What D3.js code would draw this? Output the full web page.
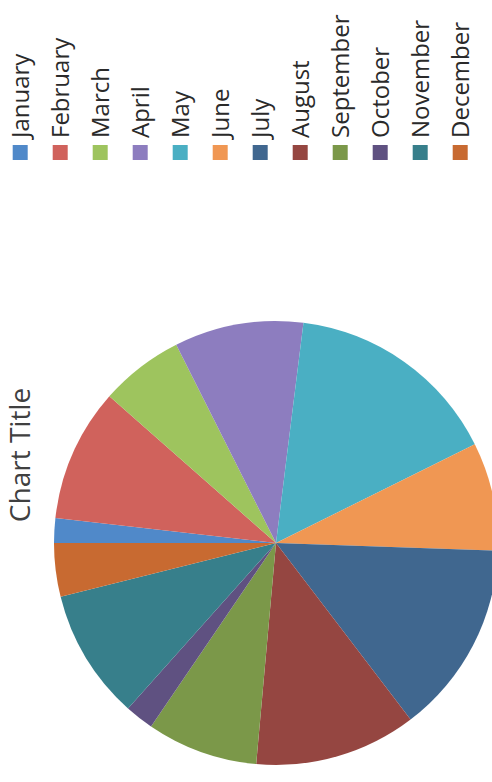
<!DOCTYPE html>
<html>
<head>
<meta charset="utf-8">
<script src="https://cdn.jsdelivr.net/npm/d3@7"></script>
<style>
  html, body { margin: 0; padding: 0; background: #fff; }
  svg { display: block; }
</style>
</head>
<body>
<svg id="chart" width="492" height="782"></svg>
<script>
const months = ["January","February","March","April","May","June","July","August","September","October","November","December"];
const values = [1.8, 9.7, 6.1, 9.4, 15.7, 7.9, 14.1, 11.8, 8.1, 2.1, 9.5, 3.9];
const colors = ["#5089c9","#d0625c","#9ec45e","#8d7dbf","#4aafc3","#f09753","#40678f","#954641","#7b9849","#5f5181","#377f8b","#c86a31"];
const title = "Chart Title";

const W = 492, H = 782;
const svg = d3.select("#chart");
// Chart is drawn in an unrotated frame (H wide, W tall) then turned 90° counter-clockwise.
const g = svg.append("g").attr("transform", `translate(0,${H}) rotate(-90)`);

const cx = 239, cy = 276, r = 222;
const pie = d3.pie().sort(null).value(d => d)(values);
const arc = d3.arc().innerRadius(0).outerRadius(r);
const color = d3.scaleOrdinal().domain(months).range(colors);

g.append("g").attr("transform", `translate(${cx},${cy})`)
  .selectAll("path").data(pie).join("path")
  .attr("d", arc)
  .attr("fill", (d, i) => color(months[i]));

g.append("text")
  .attr("x", 327).attr("y", 30)
  .attr("text-anchor", "middle")
  .attr("font-family", "Open Sans, sans-serif")
  .attr("font-size", 28)
  .attr("fill", "#404040")
  .text(title);

const legendY = d3.scalePoint().domain(months).range([12.7, 12.7 + 40 * 11]);
const lg = g.append("g");
const item = lg.selectAll("g").data(months).join("g")
  .attr("transform", d => `translate(0,${legendY(d)})`);
item.append("rect")
  .attr("x", 622).attr("y", 0).attr("width", 15).attr("height", 15)
  .attr("fill", d => color(d));
item.append("text")
  .attr("x", 644).attr("y", 16)
  .attr("font-family", "Open Sans, sans-serif")
  .attr("font-size", 24)
  .attr("fill", "#2a2a2a")
  .text(d => d);
</script>
</body>
</html>
